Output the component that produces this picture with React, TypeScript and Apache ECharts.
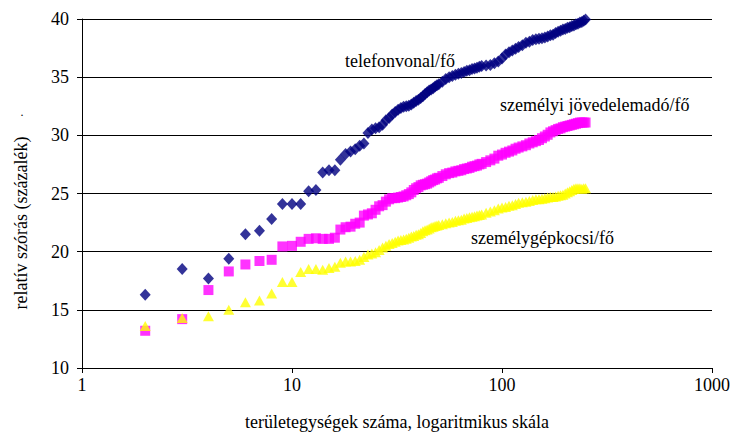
import React, { useEffect, useRef } from "react";
import * as echarts from "echarts";

// number of territorial units (x, log scale)
const units = [
  2, 3, 4, 5, 6, 7, 8, 9, 10, 11, 12, 13, 14, 15, 16, 17, 18, 19, 20, 21, 22, 23, 24, 25, 26, 27, 28, 29, 30,
  31, 32, 33, 34, 35, 36, 37, 38, 39, 40, 41, 42, 43, 44, 45, 46, 47, 48, 49, 50,
  52, 54, 56, 58, 60, 62, 64, 66, 68, 70, 72, 74, 76, 78, 80,
  84, 88, 92, 96, 100, 104, 108, 112, 116, 120,
  125, 130, 135, 140, 145, 150, 155, 160, 165, 170, 175, 180, 185, 190, 195, 200,
  205, 210, 215, 220, 225, 230, 235, 240, 245, 250,
];

// relative standard deviation (%) — telefonvonal/fő
const telefon = [
  16.3, 18.5, 17.7, 19.4, 21.5, 21.8, 22.8, 24.1, 24.1, 24.1, 25.2, 25.3, 26.8, 27.0, 27.0, 27.9, 28.4, 28.6, 28.8, 29.1, 29.3, 30.2, 30.5, 30.6, 30.7, 30.9, 31.3, 31.5, 31.8,
  32.0, 32.2, 32.35, 32.45, 32.5, 32.55, 32.65, 32.8, 32.95, 33.05, 33.2, 33.35, 33.55, 33.7, 33.85, 33.95, 34.05, 34.2, 34.3, 34.4,
  34.6, 34.85, 35.0, 35.1, 35.2, 35.3, 35.35, 35.45, 35.55, 35.6, 35.7, 35.75, 35.8, 35.9, 35.95,
  36.0, 36.05, 36.2, 36.35, 36.6, 36.95, 37.15, 37.3, 37.45, 37.6,
  37.75, 37.95, 38.05, 38.2, 38.25, 38.3, 38.35, 38.4, 38.5, 38.6, 38.65, 38.8, 38.9, 39.0, 39.1, 39.15,
  39.25, 39.3, 39.4, 39.45, 39.55, 39.6, 39.7, 39.75, 39.85, 39.95,
];

// személyi jövedelemadó/fő
const szja = [
  13.2, 14.2, 16.7, 18.3, 18.9, 19.2, 19.3, 20.45, 20.5, 20.85, 21.1, 21.15, 21.1, 21.1, 21.2, 21.9, 22.1, 22.15, 22.4, 22.5, 23.1, 23.2, 23.3, 23.6, 23.9, 24.0, 24.3, 24.5, 24.6,
  24.6, 24.65, 24.7, 24.75, 24.85, 24.95, 25.1, 25.3, 25.45, 25.55, 25.7, 25.75, 25.8, 25.85, 25.95, 26.05, 26.15, 26.2, 26.3, 26.35,
  26.5, 26.65, 26.75, 26.8, 26.9, 26.95, 27.0, 27.1, 27.15, 27.2, 27.3, 27.35, 27.4, 27.5, 27.55,
  27.7, 27.85, 28.0, 28.25, 28.35, 28.5, 28.6, 28.7, 28.85, 28.95,
  29.05, 29.15, 29.3, 29.4, 29.5, 29.6, 29.75, 29.9, 30.05, 30.25, 30.35, 30.45, 30.55, 30.6, 30.7, 30.75,
  30.8, 30.85, 30.9, 30.95, 31.0, 31.05, 31.1, 31.1, 31.1, 31.1,
];

// személygépkocsi/fő
const auto = [
  13.6, 14.3, 14.45, 15.0, 15.65, 15.8, 16.4, 17.4, 17.4, 18.25, 18.5, 18.5, 18.45, 18.6, 18.7, 19.05, 19.15, 19.15, 19.2, 19.3, 19.55, 19.75, 19.85, 19.95, 20.15, 20.35, 20.5, 20.65, 20.75,
  20.85, 20.95, 21.0, 21.05, 21.1, 21.2, 21.3, 21.35, 21.45, 21.5, 21.6, 21.75, 21.85, 21.9, 22.0, 22.1, 22.15, 22.2, 22.25, 22.3,
  22.35, 22.45, 22.5, 22.55, 22.65, 22.7, 22.75, 22.85, 22.9, 22.95, 23.0, 23.05, 23.1, 23.15, 23.2,
  23.35, 23.45, 23.55, 23.7, 23.8, 23.85, 23.95, 24.0, 24.1, 24.2,
  24.25, 24.3, 24.35, 24.45, 24.5, 24.5, 24.55, 24.6, 24.65, 24.7, 24.7, 24.75, 24.8, 24.85, 24.9, 25.0,
  25.1, 25.2, 25.3, 25.4, 25.45, 25.45, 25.45, 25.4, 25.45, 25.45,
];

const seriesNames = ["telefonvonal/fő", "személyi jövedelemadó/fő", "személygépkocsi/fő"];
const xTitle = "területegységek száma, logaritmikus skála";
const yTitle = "relatív szórás (százalék)";

const FONT = "Liberation Serif";
const FS = 18;

export default function App() {
  const ref = useRef<HTMLDivElement>(null);

  useEffect(() => {
    if (!ref.current) return;
    const chart = echarts.init(ref.current, undefined, { renderer: "svg" });
    const pairs = (ys: number[]) => units.map((x, i) => [x, ys[i]]);
    const textStyle = { fontFamily: FONT, fontSize: FS, color: "#000" };
    const gText = (text: string, x: number, y: number, extra: any = {}) => ({
      type: "text",
      x,
      y,
      ...extra,
      style: { text, fontFamily: FONT, fontSize: FS, fill: "#000", align: "left", verticalAlign: "middle", ...(extra.style || {}) },
    });
    chart.setOption({
      animation: false,
      backgroundColor: "#fff",
      grid: { left: 82, right: 20, top: 19, bottom: 64, containLabel: false, outerBoundsMode: "none" },
      xAxis: {
        type: "log",
        logBase: 10,
        min: 1,
        max: 1000,
        name: xTitle,
        nameLocation: "middle",
        nameGap: 45,
        nameTextStyle: textStyle,
        axisLine: { show: true, lineStyle: { color: "#000", width: 1 } },
        axisTick: { show: true, inside: false, length: 5, lineStyle: { color: "#000" } },
        axisLabel: { ...textStyle, margin: 8, formatter: (v: number) => String(Math.round(v)) },
        splitLine: { show: false },
        minorTick: { show: false },
      },
      yAxis: {
        type: "value",
        min: 10,
        max: 40,
        interval: 5,
        axisLine: { show: true, lineStyle: { color: "#000", width: 1 } },
        axisTick: { show: true, inside: false, length: 5, lineStyle: { color: "#000" } },
        axisLabel: { ...textStyle, margin: 13 },
        splitLine: { show: true, lineStyle: { color: "#000", width: 1 } },
      },
      series: [
        {
          name: seriesNames[0],
          type: "scatter",
          data: pairs(telefon),
          symbol: "diamond",
          symbolSize: [11, 12],
          itemStyle: { color: "#000080" },
          clip: false,
        },
        {
          name: seriesNames[1],
          type: "scatter",
          data: pairs(szja),
          symbol: "rect",
          symbolSize: 10,
          itemStyle: { color: "#FF00FF" },
          clip: false,
        },
        {
          name: seriesNames[2],
          type: "scatter",
          data: pairs(auto),
          symbol: "triangle",
          symbolSize: [11, 10],
          itemStyle: { color: "#FFFF00" },
          clip: false,
        },
      ],
      graphic: [
        gText(yTitle, 21, 223, { rotation: Math.PI / 2, style: { align: "center" } }),
        gText(".", 22, 112, { style: { fontSize: 12, align: "center" } }),
        gText(seriesNames[0], 345, 61),
        gText(seriesNames[1], 500, 105),
        gText(seriesNames[2], 471, 238),
      ],
    });
    return () => chart.dispose();
  }, []);

  return (
    <div
      ref={ref}
      style={{ position: "fixed", left: 0, top: 0, width: 732, height: 432, background: "#fff" }}
    />
  );
}
